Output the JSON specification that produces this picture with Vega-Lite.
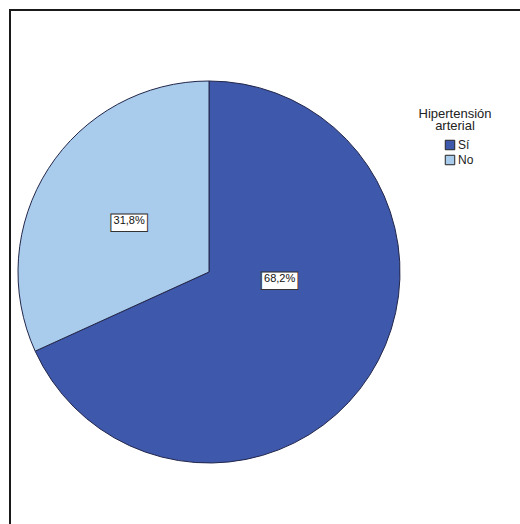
{
  "$schema": "https://vega.github.io/schema/vega-lite/v6.json",
  "width": 512,
  "height": 516,
  "autosize": {"type": "none"},
  "padding": {"left": 10, "top": 10, "right": 0, "bottom": 0},
  "background": "white",
  "view": {"stroke": "#1a1a1a", "strokeWidth": 2},
  "config": {"view": {"stroke": "#1a1a1a", "strokeWidth": 2}, "style": {"cell": {"stroke": "#1a1a1a", "strokeWidth": 2}}, "font": "Liberation Sans"},
  "data": {"values": [
    {"categoria": "Sí", "porcentaje": 68.2, "etiqueta": "68,2%"},
    {"categoria": "No", "porcentaje": 31.8, "etiqueta": "31,8%"}
  ]},
  "encoding": {
    "theta": {"field": "porcentaje", "type": "quantitative", "stack": true},
    "order": {"field": "porcentaje", "sort": "descending"}
  },
  "layer": [
    {
      "mark": {"type": "arc", "x": 199, "y": 262, "radius": 191, "stroke": "#22264a", "strokeWidth": 1},
      "encoding": {
        "color": {
          "field": "categoria", "type": "nominal",
          "scale": {"domain": ["Sí", "No"], "range": ["#3E58AC", "#A9CCEC"]},
          "legend": {
            "title": ["Hipertensión", "arterial"],
            "orient": "none", "legendX": 409, "legendY": 98,
            "titleAlign": "center", "titleAnchor": "middle",
            "titleFont": "Liberation Sans", "titleFontSize": 13, "titleFontWeight": "normal",
            "titleColor": "#222", "titleLineHeight": 12, "titlePadding": 6,
            "labelFont": "Liberation Sans", "labelFontSize": 12, "labelColor": "#222",
            "symbolType": "square", "symbolSize": 90, "symbolStrokeColor": "#222",
            "symbolStrokeWidth": 1, "symbolOffset": 8, "labelOffset": 2, "rowPadding": 1
          }
        }
      }
    },
    {
      "mark": {"type": "text", "x": 199, "y": 262, "radius": 84, "dy": -38, "font": "DejaVu Sans", "fontSize": 48, "fill": "white", "stroke": "#333", "strokeWidth": 1},
      "encoding": {"text": {"condition": {"test": "datum.categoria === 'Sí'", "value": "▬"}, "value": ""}}
    },
    {
      "mark": {"type": "text", "x": 199, "y": 262, "radius": 84, "dy": -38, "font": "Liberation Sans", "fontSize": 11, "fill": "#111"},
      "encoding": {"text": {"condition": {"test": "datum.categoria === 'Sí'", "field": "etiqueta", "type": "nominal"}, "value": ""}}
    },
    {
      "mark": {"type": "text", "x": 199, "y": 262, "radius": 95, "font": "DejaVu Sans", "fontSize": 48, "fill": "white", "stroke": "#333", "strokeWidth": 1},
      "encoding": {"text": {"condition": {"test": "datum.categoria === 'No'", "value": "▬"}, "value": ""}}
    },
    {
      "mark": {"type": "text", "x": 199, "y": 262, "radius": 95, "font": "Liberation Sans", "fontSize": 11, "fill": "#111"},
      "encoding": {"text": {"condition": {"test": "datum.categoria === 'No'", "field": "etiqueta", "type": "nominal"}, "value": ""}}
    }
  ]
}
